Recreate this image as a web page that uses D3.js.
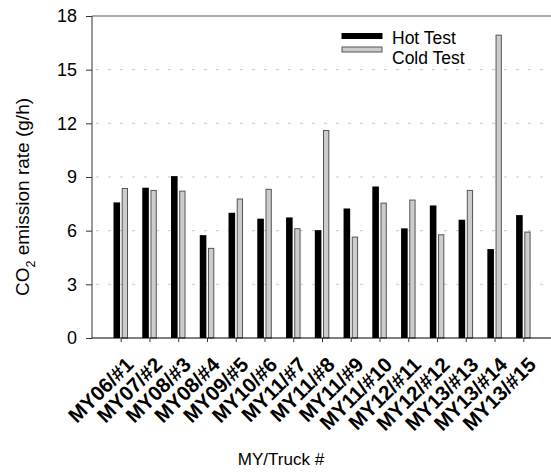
<!DOCTYPE html>
<html>
<head>
<meta charset="utf-8">
<script src="https://cdn.jsdelivr.net/npm/d3@7"></script>
<style>
  html, body { margin: 0; padding: 0; background: #fff; }
  svg { display: block; font-family: "Liberation Sans", Arial, sans-serif; }
</style>
</head>
<body>
<svg id="chart" width="551" height="476"></svg>
<script>
const categories = ["MY06/#1","MY07/#2","MY08/#3","MY08/#4","MY09/#5","MY10/#6","MY11/#7","MY11/#8","MY11/#9","MY11/#10","MY12/#11","MY12/#12","MY13/#13","MY13/#14","MY13/#15"];
const hotTest  = [7.58, 8.40, 9.05, 5.75, 7.00, 6.67, 6.74, 6.03, 7.24, 8.47, 6.13, 7.41, 6.61, 4.97, 6.87];
const coldTest = [8.36, 8.25, 8.21, 5.01, 7.77, 8.31, 6.11, 11.60, 5.64, 7.54, 7.71, 5.77, 8.25, 16.93, 5.92];
const yTicks = [0, 3, 6, 9, 12, 15, 18];
const seriesNames = ["Hot Test", "Cold Test"];

const svg = d3.select("#chart");
const pLeft = 92, pTop = 16, pBottom = 338, pRight = 556;

const x = d3.scaleLinear().domain([0, categories.length - 1]).range([120.7, 523.3]);
const y = d3.scaleLinear().domain([0, 18]).range([pBottom, pTop]);

// gridlines
svg.append("g").selectAll("line").data(yTicks.filter(d => d > 0 && d < 18)).join("line")
  .attr("x1", pLeft + 4).attr("x2", pRight)
  .attr("y1", d => y(d)).attr("y2", d => y(d))
  .attr("stroke", "#c8c8c8").attr("stroke-width", 1)
  .attr("stroke-dasharray", "3,9");

// bars
const g = svg.append("g");
g.selectAll("rect.hot").data(hotTest).join("rect").attr("class", "hot")
  .attr("x", (d, i) => x(i) - 7.2).attr("width", 6.6)
  .attr("y", d => y(d)).attr("height", d => pBottom - y(d))
  .attr("fill", "#000");
g.selectAll("rect.cold").data(coldTest).join("rect").attr("class", "cold")
  .attr("x", (d, i) => x(i) + 1.5).attr("width", 5.3)
  .attr("y", d => y(d)).attr("height", d => pBottom - y(d))
  .attr("fill", "#cccccc").attr("stroke", "#555").attr("stroke-width", 1);

// axes
const yAxis = d3.axisLeft(y).tickValues(yTicks).tickSize(6).tickPadding(9);
const ya = svg.append("g").attr("transform", `translate(${pLeft},0)`).call(yAxis);
ya.select(".domain").remove();
ya.selectAll("line").attr("stroke", "#333");
ya.selectAll("text").attr("font-size", "18px").attr("fill", "#000")
  .attr("font-family", "Liberation Sans, Arial, sans-serif");

svg.append("line").attr("x1", pLeft).attr("x2", pLeft).attr("y1", pTop).attr("y2", pBottom).attr("stroke", "#333");
svg.append("line").attr("x1", pLeft).attr("x2", pRight).attr("y1", pTop).attr("y2", pTop).attr("stroke", "#555");
svg.append("line").attr("x1", pLeft).attr("x2", pRight).attr("y1", pBottom).attr("y2", pBottom).attr("stroke", "#000");

const xAxis = d3.axisBottom(x).tickValues(d3.range(categories.length)).tickSize(4).tickFormat("");
const xa = svg.append("g").attr("transform", `translate(0,${pBottom})`).call(xAxis);
xa.select(".domain").remove();
xa.selectAll("line").attr("stroke", "#333");

// x tick labels
svg.append("g").selectAll("text").data(categories).join("text")
  .attr("transform", (d, i) => `translate(${x(i) + 14},${pBottom + 28}) rotate(-45)`)
  .attr("text-anchor", "end")
  .attr("font-size", "20.5px").attr("font-weight", "bold")
  .text(d => d);

// axis titles
svg.append("text").attr("x", 281).attr("y", 465).attr("text-anchor", "middle")
  .attr("font-size", "17px").text("MY/Truck #");

const yl = svg.append("text").attr("transform", `translate(29,197) rotate(-90)`)
  .attr("text-anchor", "middle").attr("font-size", "19px");
yl.append("tspan").text("CO");
yl.append("tspan").attr("font-size", "12.5px").attr("dy", 6).text("2");
yl.append("tspan").attr("dy", -6).text(" emission rate (g/h)");

// legend
const leg = svg.append("g");
seriesNames.forEach((name, i) => {
  const yy = 36 + i * 13.5;
  leg.append("rect").attr("x", 342).attr("y", yy - 2.5).attr("width", 40).attr("height", 5)
    .attr("fill", i === 0 ? "#000" : "#cccccc").attr("stroke", i === 0 ? "#000" : "#555");
  leg.append("text").attr("x", 392).attr("y", yy + 8 + i * 6.5).attr("font-size", "17.5px").text(name);
});
</script>
</body>
</html>
